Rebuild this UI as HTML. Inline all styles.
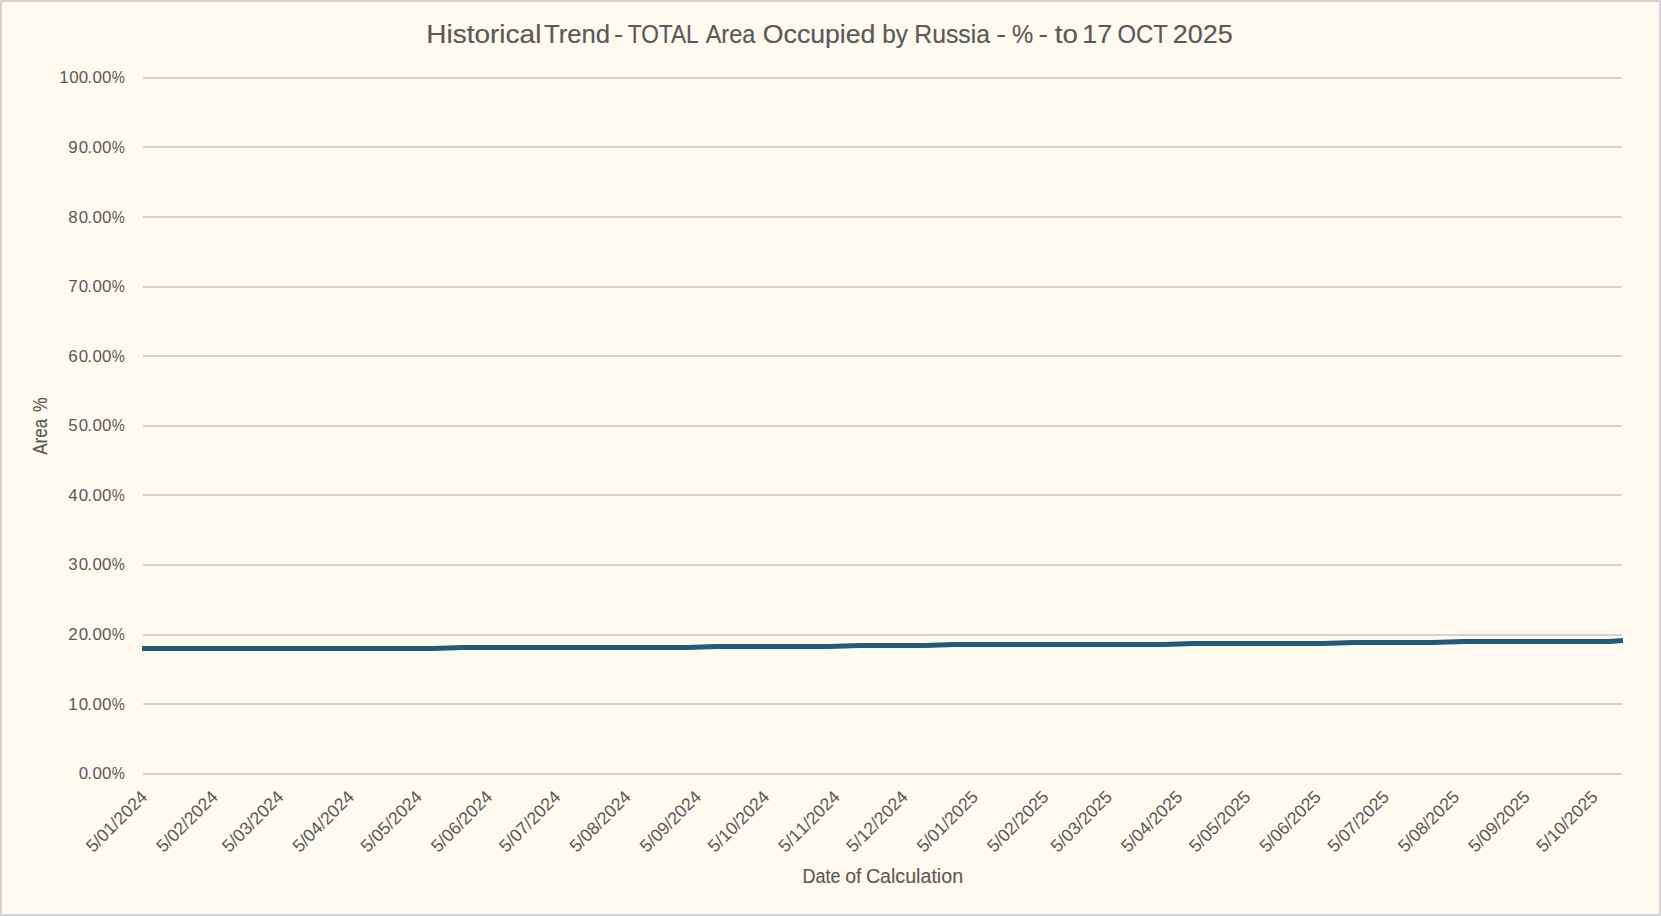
<!DOCTYPE html>
<html lang="en"><head><meta charset="utf-8"><title>Historical Trend - TOTAL Area Occupied by Russia</title>
<style>html,body{margin:0;padding:0;background:#FEFAF0;overflow:hidden}svg{display:block}text{font-family:"Liberation Sans",Arial,sans-serif;fill:#595959}</style></head><body>
<svg width="1661" height="916" viewBox="0 0 1661 916">
<rect x="0" y="0" width="1661" height="916" fill="#FEFAF0"/>
<rect x="1" y="1" width="1659" height="914" fill="none" stroke="#D3D3D3" stroke-width="2"/>
<rect x="0" y="0" width="1" height="1" fill="#E8E8E8"/>
<rect x="1660" y="0" width="1" height="1" fill="#E8E8E8"/>
<rect x="0" y="915" width="1" height="1" fill="#E8E8E8"/>
<rect x="1660" y="915" width="1" height="1" fill="#E8E8E8"/>
<text id="title" y="42.80" font-size="26.40" stroke="#595959" stroke-width="0.18"><tspan x="426.30" textLength="115.07" lengthAdjust="spacingAndGlyphs">Historical</tspan> <tspan x="543.92" textLength="66.13" lengthAdjust="spacingAndGlyphs">Trend</tspan> <tspan x="614.08" textLength="9.14" lengthAdjust="spacingAndGlyphs">-</tspan> <tspan x="627.70" textLength="70.15" lengthAdjust="spacingAndGlyphs">TOTAL</tspan> <tspan x="705.65" textLength="49.65" lengthAdjust="spacingAndGlyphs">Area</tspan> <tspan x="762.84" textLength="112.58" lengthAdjust="spacingAndGlyphs">Occupied</tspan> <tspan x="882.23" textLength="25.72" lengthAdjust="spacingAndGlyphs">by</tspan> <tspan x="914.27" textLength="75.73" lengthAdjust="spacingAndGlyphs">Russia</tspan> <tspan x="996.29" textLength="9.82" lengthAdjust="spacingAndGlyphs">-</tspan> <tspan x="1011.95" textLength="21.20" lengthAdjust="spacingAndGlyphs">%</tspan> <tspan x="1038.64" textLength="9.41" lengthAdjust="spacingAndGlyphs">-</tspan> <tspan x="1054.88" textLength="23.08" lengthAdjust="spacingAndGlyphs">to</tspan> <tspan x="1082.35" textLength="29.90" lengthAdjust="spacingAndGlyphs">17</tspan> <tspan x="1117.38" textLength="49.96" lengthAdjust="spacingAndGlyphs">OCT</tspan> <tspan x="1172.74" textLength="59.99" lengthAdjust="spacingAndGlyphs">2025</tspan></text>
<g id="grid">
<rect x="143" y="77" width="1479" height="2" fill="#D3D3D5"/>
<rect x="143" y="146" width="1479" height="2" fill="#D3D3D5"/>
<rect x="143" y="216" width="1479" height="2" fill="#D3D3D5"/>
<rect x="143" y="286" width="1479" height="2" fill="#D3D3D5"/>
<rect x="143" y="355" width="1479" height="2" fill="#D3D3D5"/>
<rect x="143" y="425" width="1479" height="2" fill="#D3D3D5"/>
<rect x="143" y="494" width="1479" height="2" fill="#D3D3D5"/>
<rect x="143" y="564" width="1479" height="2" fill="#D3D3D5"/>
<rect x="143" y="634" width="1479" height="2" fill="#D3D3D5"/>
<rect x="143" y="703" width="1479" height="2" fill="#D3D3D5"/>
<rect x="143" y="773" width="1479" height="2" fill="#D3D3D5"/>
</g>
<g id="ylabels" font-size="16.9">
<text y="83.2"><tspan x="59.3 69.3 78.7 87.2 92.5 102.0">100.00</tspan><tspan x="111.77" textLength="13.10" lengthAdjust="spacingAndGlyphs">%</tspan></text>
<text y="153.2"><tspan x="68.2 78.7 87.2 92.5 102.0">90.00</tspan><tspan x="111.77" textLength="13.10" lengthAdjust="spacingAndGlyphs">%</tspan></text>
<text y="223.2"><tspan x="68.2 78.7 87.2 92.5 102.0">80.00</tspan><tspan x="111.77" textLength="13.10" lengthAdjust="spacingAndGlyphs">%</tspan></text>
<text y="292.2"><tspan x="68.2 78.7 87.2 92.5 102.0">70.00</tspan><tspan x="111.77" textLength="13.10" lengthAdjust="spacingAndGlyphs">%</tspan></text>
<text y="362.2"><tspan x="68.2 78.7 87.2 92.5 102.0">60.00</tspan><tspan x="111.77" textLength="13.10" lengthAdjust="spacingAndGlyphs">%</tspan></text>
<text y="431.2"><tspan x="68.2 78.7 87.2 92.5 102.0">50.00</tspan><tspan x="111.77" textLength="13.10" lengthAdjust="spacingAndGlyphs">%</tspan></text>
<text y="501.2"><tspan x="68.2 78.7 87.2 92.5 102.0">40.00</tspan><tspan x="111.77" textLength="13.10" lengthAdjust="spacingAndGlyphs">%</tspan></text>
<text y="570.2"><tspan x="68.2 78.7 87.2 92.5 102.0">30.00</tspan><tspan x="111.77" textLength="13.10" lengthAdjust="spacingAndGlyphs">%</tspan></text>
<text y="640.2"><tspan x="68.2 78.7 87.2 92.5 102.0">20.00</tspan><tspan x="111.77" textLength="13.10" lengthAdjust="spacingAndGlyphs">%</tspan></text>
<text y="710.2"><tspan x="68.2 78.7 87.2 92.5 102.0">10.00</tspan><tspan x="111.77" textLength="13.10" lengthAdjust="spacingAndGlyphs">%</tspan></text>
<text y="779.2"><tspan x="78.7 87.2 92.5 102.0">0.00</tspan><tspan x="111.77" textLength="13.10" lengthAdjust="spacingAndGlyphs">%</tspan></text>
</g>
<g id="xlabels" font-size="17.60" text-anchor="end" style="font-kerning:none">
<text transform="translate(148.50 798.00) rotate(-45)">5/01/2024</text>
<text transform="translate(218.87 798.00) rotate(-45)">5/02/2024</text>
<text transform="translate(284.69 798.00) rotate(-45)">5/03/2024</text>
<text transform="translate(355.06 798.00) rotate(-45)">5/04/2024</text>
<text transform="translate(423.16 798.00) rotate(-45)">5/05/2024</text>
<text transform="translate(493.52 798.00) rotate(-45)">5/06/2024</text>
<text transform="translate(561.62 798.00) rotate(-45)">5/07/2024</text>
<text transform="translate(631.99 798.00) rotate(-45)">5/08/2024</text>
<text transform="translate(702.36 798.00) rotate(-45)">5/09/2024</text>
<text transform="translate(770.45 798.00) rotate(-45)">5/10/2024</text>
<text transform="translate(840.82 798.00) rotate(-45)">5/11/2024</text>
<text transform="translate(908.92 798.00) rotate(-45)">5/12/2024</text>
<text transform="translate(979.28 798.00) rotate(-45)">5/01/2025</text>
<text transform="translate(1049.65 798.00) rotate(-45)">5/02/2025</text>
<text transform="translate(1113.21 798.00) rotate(-45)">5/03/2025</text>
<text transform="translate(1183.57 798.00) rotate(-45)">5/04/2025</text>
<text transform="translate(1251.67 798.00) rotate(-45)">5/05/2025</text>
<text transform="translate(1322.04 798.00) rotate(-45)">5/06/2025</text>
<text transform="translate(1390.14 798.00) rotate(-45)">5/07/2025</text>
<text transform="translate(1460.50 798.00) rotate(-45)">5/08/2025</text>
<text transform="translate(1530.87 798.00) rotate(-45)">5/09/2025</text>
<text transform="translate(1598.97 798.00) rotate(-45)">5/10/2025</text>
</g>
<text id="xtitle" y="882.6" font-size="19.3" stroke="#595959" stroke-width="0.12"><tspan x="802.52" textLength="38.08" lengthAdjust="spacingAndGlyphs">Date</tspan> <tspan x="845.28" textLength="16.19" lengthAdjust="spacingAndGlyphs">of</tspan> <tspan x="865.90" textLength="97.17" lengthAdjust="spacingAndGlyphs">Calculation</tspan></text>
<text id="ytitle" transform="translate(47 0) rotate(-90)" y="0" font-size="20.5" stroke="#595959" stroke-width="0.18"><tspan x="-454.73" textLength="35.93" lengthAdjust="spacingAndGlyphs">Area</tspan> <tspan x="-411.99" textLength="14.68" lengthAdjust="spacingAndGlyphs">%</tspan></text>
<polyline fill="none" stroke="#235A7A" stroke-width="5" stroke-linecap="butt" stroke-linejoin="round" points="142.0,648.5 433.0,648.5 462.0,647.5 687.0,647.5 716.0,646.5 829.0,646.5 860.0,645.5 925.0,645.5 954.0,644.5 1164.0,644.5 1193.0,643.5 1323.0,643.5 1354.0,642.5 1433.0,642.5 1464.0,641.5 1609.5,641.5 1623.0,640.5"/>
</svg></body></html>
